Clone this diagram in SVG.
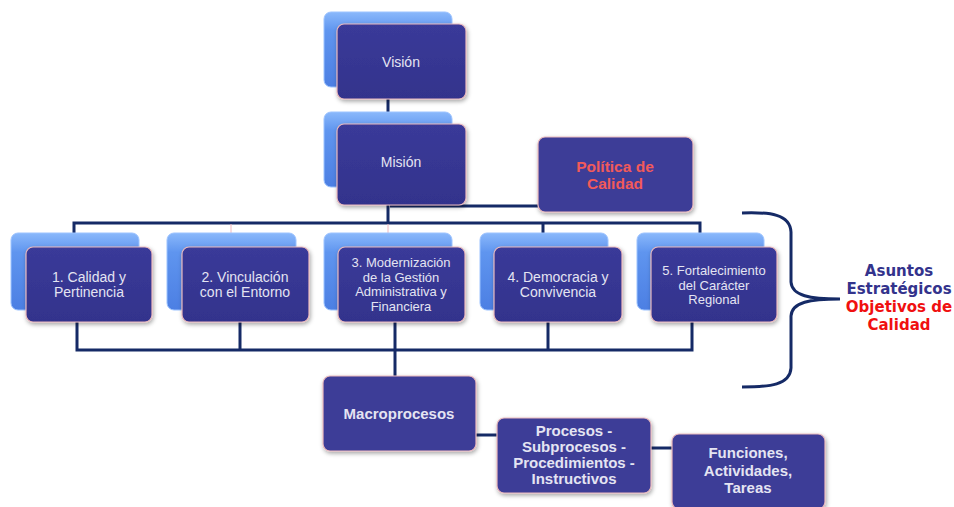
<svg xmlns="http://www.w3.org/2000/svg" width="954" height="507" viewBox="0 0 954 507">
<defs>
<linearGradient id="gBack" x1="0" y1="0" x2="0" y2="1">
<stop offset="0" stop-color="#8ab8fb"/>
<stop offset="0.25" stop-color="#5f95ef"/>
<stop offset="1" stop-color="#4c7fe3"/>
</linearGradient>
<linearGradient id="gFront" x1="0" y1="0" x2="0" y2="1">
<stop offset="0" stop-color="#3a3a99"/>
<stop offset="1" stop-color="#33338c"/>
</linearGradient>
<filter id="sh" x="-10%" y="-10%" width="130%" height="140%">
<feDropShadow dx="1" dy="2" stdDeviation="2" flood-color="#000" flood-opacity="0.35"/>
</filter>
</defs>
<style>
.back{fill:url(#gBack);stroke:#9cc3ff;stroke-width:1}
.front{fill:url(#gFront);stroke:#e9b9bd;stroke-width:1.2;filter:url(#sh)}
.box{fill:#3e3e97;stroke:#e9b9bd;stroke-width:1.2;filter:url(#sh)}
.ln{stroke:#152a66;stroke-width:3;fill:none}
.pk{stroke:#f2b8be;stroke-width:1;fill:none}
.t{font-family:"Liberation Sans",Arial,sans-serif;font-size:14px;fill:#e4e4f2;text-anchor:middle}
.ts{font-family:"Liberation Sans",Arial,sans-serif;font-size:13px;fill:#e4e4f2;text-anchor:middle}
.tb{font-family:"Liberation Sans",Arial,sans-serif;font-size:15px;font-weight:bold;fill:#e4e4f2;text-anchor:middle}
.tr{font-family:"Liberation Sans",Arial,sans-serif;font-size:15.5px;font-weight:bold;fill:#f25a5a;text-anchor:middle}
.lab{font-family:"DejaVu Sans",Verdana,sans-serif;font-size:15px;font-weight:bold;text-anchor:middle}
</style>
<g id="connectors">
<path class="ln" d="M388 99 V124"/>
<path class="ln" d="M388 205 V223"/>
<path class="ln" d="M390 206 H538"/>
<path class="ln" d="M74 233 V223 H700 V233"/>
<path class="ln" d="M543 223 V233"/>
<path class="pk" d="M231 224 V233"/>
<path class="pk" d="M388 224 V233"/>
<path class="ln" d="M77 322 V350 H692 V322"/>
<path class="ln" d="M240 322 V350"/>
<path class="ln" d="M548 322 V350"/>
<path class="ln" d="M395 322 V376"/>
<path class="ln" d="M476 435 H497"/>
<path class="ln" d="M651 448 H672"/>
<path class="ln" d="M742 213 C770 212 790 214 791 232 V282 C792 296 810 299 840 299 C810 299 792 302 791 316 V368 C790 385 770 387 742 387" stroke-width="2.5"/>
</g>
<g id="vision">
<rect class="back" x="324" y="12" width="128" height="75" rx="7"/>
<rect class="front" x="337" y="24" width="129" height="75" rx="7"/>
<text class="t" x="401" y="67">Visión</text>
</g>
<g id="mision">
<rect class="back" x="324" y="112" width="128" height="75" rx="7"/>
<rect class="front" x="337" y="124" width="129" height="81" rx="7"/>
<text class="t" x="401" y="167">Misión</text>
</g>
<g id="politica">
<rect class="box" x="538" y="137" width="155" height="75" rx="7"/>
<text class="tr" x="615" y="172">Política de</text>
<text class="tr" x="615" y="189">Calidad</text>
</g>
<g id="a1">
<rect class="back" x="11" y="233" width="128" height="77" rx="7"/>
<rect class="front" x="26" y="247" width="126" height="75" rx="7"/>
<text class="t" x="89" y="282">1. Calidad y</text>
<text class="t" x="89" y="297">Pertinencia</text>
</g>
<g id="a2">
<rect class="back" x="167" y="233" width="129" height="77" rx="7"/>
<rect class="front" x="182" y="247" width="127" height="75" rx="7"/>
<text class="t" x="245" y="282">2. Vinculación</text>
<text class="t" x="245" y="297">con el Entorno</text>
</g>
<g id="a3">
<rect class="back" x="324" y="233" width="128" height="77" rx="7"/>
<rect class="front" x="338" y="247" width="127" height="75" rx="7"/>
<text class="ts" x="401" y="267">3. Modernización</text>
<text class="ts" x="401" y="281.5">de la Gestión</text>
<text class="ts" x="401" y="296">Administrativa y</text>
<text class="ts" x="401" y="310.5">Financiera</text>
</g>
<g id="a4">
<rect class="back" x="480" y="233" width="128" height="77" rx="7"/>
<rect class="front" x="494" y="247" width="128" height="75" rx="7"/>
<text class="t" x="558" y="282">4. Democracia y</text>
<text class="t" x="558" y="297">Convivencia</text>
</g>
<g id="a5">
<rect class="back" x="637" y="233" width="127" height="77" rx="7"/>
<rect class="front" x="651" y="247" width="126" height="75" rx="7"/>
<text class="ts" x="714" y="275">5. Fortalecimiento</text>
<text class="ts" x="714" y="289.5">del Carácter</text>
<text class="ts" x="714" y="304">Regional</text>
</g>
<g id="label">
<text class="lab" x="899" y="276" fill="#33338c">Asuntos</text>
<text class="lab" x="899" y="294" fill="#33338c">Estratégicos</text>
<text class="lab" x="899" y="312" fill="#f01010">Objetivos de</text>
<text class="lab" x="899" y="330" fill="#f01010">Calidad</text>
</g>
<g id="macro">
<rect class="box" x="323" y="376" width="153" height="75" rx="7"/>
<text class="tb" x="399" y="419" font-size="16">Macroprocesos</text>
</g>
<g id="procesos">
<rect class="box" x="497" y="418" width="154" height="75" rx="7"/>
<text class="tb" x="574" y="436">Procesos -</text>
<text class="tb" x="574" y="452">Subprocesos -</text>
<text class="tb" x="574" y="468">Procedimientos -</text>
<text class="tb" x="574" y="484">Instructivos</text>
</g>
<g id="funciones">
<rect class="box" x="672" y="434" width="153" height="75" rx="7"/>
<text class="tb" x="748" y="458">Funciones,</text>
<text class="tb" x="748" y="476">Actividades,</text>
<text class="tb" x="748" y="493">Tareas</text>
</g>
</svg>
